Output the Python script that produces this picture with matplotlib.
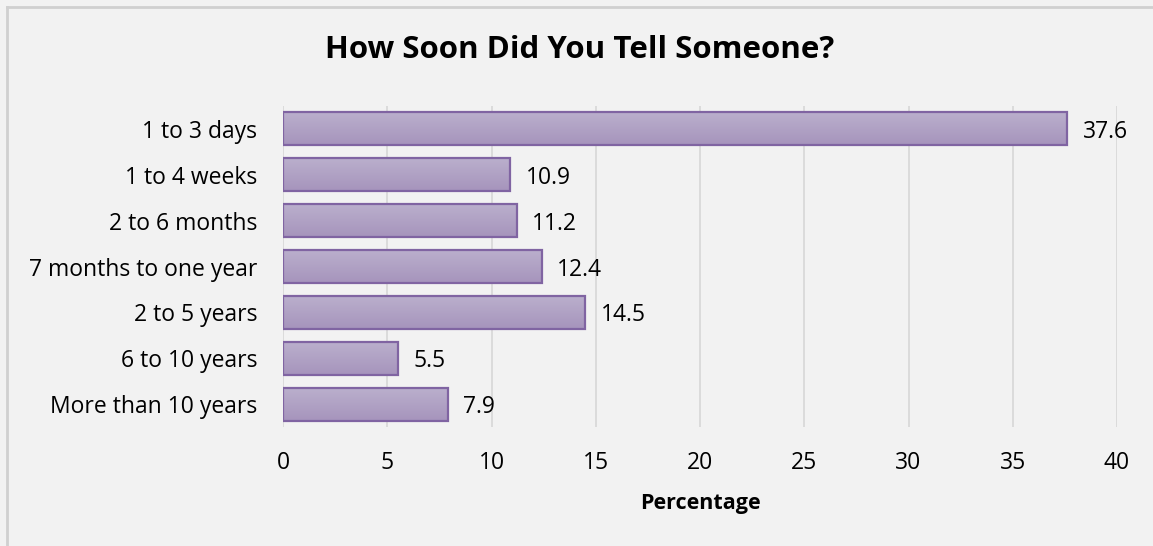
import numpy as np
import matplotlib.pyplot as plt
from matplotlib.colors import LinearSegmentedColormap

categories = ['1 to 3 days', '1 to 4 weeks', '2 to 6 months', '7 months to one year',
              '2 to 5 years', '6 to 10 years', 'More than 10 years']
percentages = [37.6, 10.9, 11.2, 12.4, 14.5, 5.5, 7.9]
x_ticks = [0, 5, 10, 15, 20, 25, 30, 35, 40]

plt.rcParams['font.family'] = ['Open Sans', 'DejaVu Sans']

bg = '#f2f2f2'
fig = plt.figure(figsize=(11.53, 5.46), dpi=100, facecolor=bg)
ax = fig.add_axes([283 / 1153, (546 - 427) / 546, (1117 - 283) / 1153, 321 / 546])
ax.set_facecolor(bg)

# frame lines along the top and left edge
fig.add_artist(plt.Line2D([7 / 1153, 7 / 1153], [0, 1 - 7 / 546], color='#d0d0d0', lw=2))
fig.add_artist(plt.Line2D([7 / 1153, 1], [1 - 7 / 546, 1 - 7 / 546], color='#d0d0d0', lw=2))

y = np.arange(len(categories))
h = 0.72
cmap = LinearSegmentedColormap.from_list('bar', ['#bbb0cd', '#a694bc'])
grad = np.linspace(0, 1, 100).reshape(-1, 1)

# gradient fill per bar, outline drawn on top
for yi, v in zip(y, percentages):
    ax.imshow(grad, extent=[0, v, yi + h / 2, yi - h / 2], cmap=cmap,
              aspect='auto', zorder=2, origin='upper')
ax.barh(y, percentages, height=h, facecolor='none', edgecolor='#8064a2', lw=1.6, zorder=3)

for yi, v in zip(y, percentages):
    ax.text(v + 0.75, yi, f'{v}', va='center_baseline', ha='left', fontsize=16.5, color='#000000')

ax.set_xlim(0, 40)
ax.set_ylim(len(categories) - 0.5, -0.5)
ax.set_xticks(x_ticks)
ax.set_yticks(y)
ax.set_yticklabels(categories)
ax.tick_params(axis='both', length=0, labelsize=16.5, colors='#000000')
ax.tick_params(axis='x', pad=17.5)
ax.tick_params(axis='y', pad=18.5)
ax.grid(axis='x', color='#d9d9d9', lw=1.3, zorder=0)
ax.set_axisbelow(True)
for s in ax.spines.values():
    s.set_visible(False)

ax.set_xlabel('Percentage', fontsize=15.5, fontweight='bold', labelpad=13)
fig.text(0.503, 1 - 50 / 546, 'How Soon Did You Tell Someone?', ha='center', va='center',
         fontsize=22.5, fontweight='bold')

fig.savefig('out.png', dpi=100, facecolor=bg)
